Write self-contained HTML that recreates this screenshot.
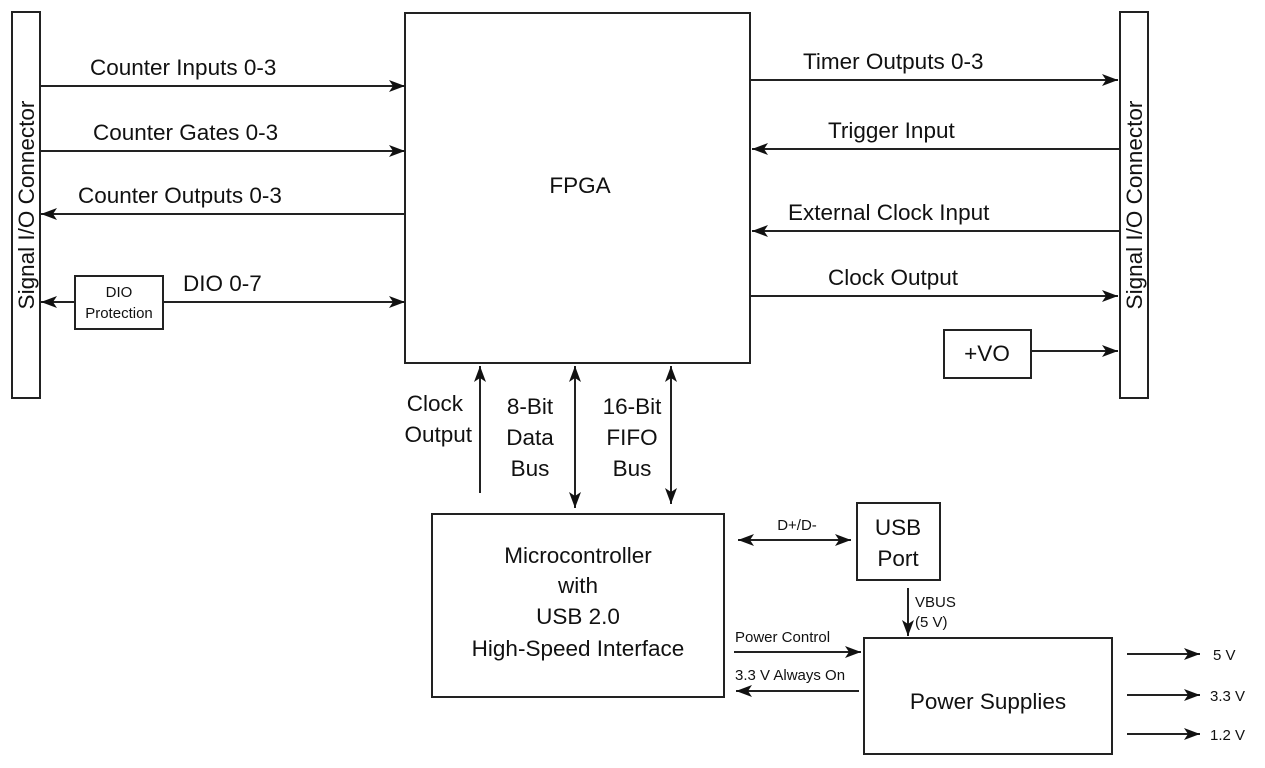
<!DOCTYPE html>
<html><head><meta charset="utf-8"><style>
html,body{margin:0;padding:0;background:#fff;}
svg{display:block;}
text{font-family:"Liberation Sans",sans-serif;fill:#111;}
</style></head><body>
<svg width="1265" height="768" viewBox="0 0 1265 768" xmlns="http://www.w3.org/2000/svg">
<defs>
<marker id="ah" viewBox="0 0 16 12" refX="16" refY="6" markerWidth="16" markerHeight="12" orient="auto-start-reverse" markerUnits="userSpaceOnUse"><path d="M0,0 L16,6 L0,12 L4,6 Z" fill="#111"/></marker>
</defs>
<g fill="none" stroke="#222" stroke-width="2">
<rect x="12" y="12" width="28" height="386"/>
<rect x="1120" y="12" width="28" height="386"/>
<rect x="405" y="13" width="345" height="350"/>
<rect x="75" y="276" width="88" height="53"/>
<rect x="944" y="330" width="87" height="48"/>
<rect x="432" y="514" width="292" height="183"/>
<rect x="857" y="503" width="83" height="77"/>
<rect x="864" y="638" width="248" height="116"/>
</g>
<g stroke="#222" stroke-width="2" fill="none">
<line x1="40" y1="86" x2="405" y2="86" marker-end="url(#ah)"/>
<line x1="40" y1="151" x2="405" y2="151" marker-end="url(#ah)"/>
<line x1="405" y1="214" x2="41" y2="214" marker-end="url(#ah)"/>
<line x1="75" y1="302" x2="41" y2="302" marker-end="url(#ah)"/>
<line x1="163" y1="302" x2="405" y2="302" marker-end="url(#ah)"/>
<line x1="750" y1="80" x2="1118" y2="80" marker-end="url(#ah)"/>
<line x1="1120" y1="149" x2="752" y2="149" marker-end="url(#ah)"/>
<line x1="1120" y1="231" x2="752" y2="231" marker-end="url(#ah)"/>
<line x1="750" y1="296" x2="1118" y2="296" marker-end="url(#ah)"/>
<line x1="1031" y1="351" x2="1118" y2="351" marker-end="url(#ah)"/>
<line x1="480" y1="493" x2="480" y2="366" marker-end="url(#ah)"/>
<line x1="575" y1="366" x2="575" y2="508" marker-start="url(#ah)" marker-end="url(#ah)"/>
<line x1="671" y1="366" x2="671" y2="504" marker-start="url(#ah)" marker-end="url(#ah)"/>
<line x1="738" y1="540" x2="851" y2="540" marker-start="url(#ah)" marker-end="url(#ah)"/>
<line x1="908" y1="588" x2="908" y2="636" marker-end="url(#ah)"/>
<line x1="734" y1="652" x2="861" y2="652" marker-end="url(#ah)"/>
<line x1="859" y1="691" x2="736" y2="691" marker-end="url(#ah)"/>
<line x1="1127" y1="654" x2="1200" y2="654" marker-end="url(#ah)"/>
<line x1="1127" y1="695" x2="1200" y2="695" marker-end="url(#ah)"/>
<line x1="1127" y1="734" x2="1200" y2="734" marker-end="url(#ah)"/>
</g>
<g font-size="22.5">
<text x="26" y="205" text-anchor="middle" transform="rotate(-90 26 205)" dy="8">Signal I/O Connector</text>
<text x="1134" y="205" text-anchor="middle" transform="rotate(-90 1134 205)" dy="8">Signal I/O Connector</text>
<text x="90" y="75">Counter Inputs 0-3</text>
<text x="93" y="140">Counter Gates 0-3</text>
<text x="78" y="203">Counter Outputs 0-3</text>
<text x="183" y="291">DIO 0-7</text>
<text x="580" y="193" text-anchor="middle">FPGA</text>
<text x="803" y="69">Timer Outputs 0-3</text>
<text x="828" y="138">Trigger Input</text>
<text x="788" y="220">External Clock Input</text>
<text x="828" y="285">Clock Output</text>
<text x="987" y="361" text-anchor="middle">+VO</text>
<text x="463" y="411" text-anchor="end">Clock</text>
<text x="472" y="442" text-anchor="end">Output</text>
<text x="530" y="414" text-anchor="middle">8-Bit</text>
<text x="530" y="445" text-anchor="middle">Data</text>
<text x="530" y="476" text-anchor="middle">Bus</text>
<text x="632" y="414" text-anchor="middle">16-Bit</text>
<text x="632" y="445" text-anchor="middle">FIFO</text>
<text x="632" y="476" text-anchor="middle">Bus</text>
<text x="578" y="563" text-anchor="middle">Microcontroller</text>
<text x="578" y="593" text-anchor="middle">with</text>
<text x="578" y="624" text-anchor="middle">USB 2.0</text>
<text x="578" y="656" text-anchor="middle">High-Speed Interface</text>
<text x="898" y="535" text-anchor="middle">USB</text>
<text x="898" y="566" text-anchor="middle">Port</text>
<text x="988" y="709" text-anchor="middle">Power Supplies</text>
</g>
<g font-size="15">
<text x="119" y="297" text-anchor="middle">DIO</text>
<text x="119" y="318" text-anchor="middle">Protection</text>
<text x="797" y="530" text-anchor="middle">D+/D-</text>
<text x="915" y="607">VBUS</text>
<text x="915" y="627">(5 V)</text>
<text x="735" y="642">Power Control</text>
<text x="735" y="680">3.3 V Always On</text>
<text x="1213" y="660">5 V</text>
<text x="1210" y="701">3.3 V</text>
<text x="1210" y="740">1.2 V</text>
</g>
</svg>
</body></html>
